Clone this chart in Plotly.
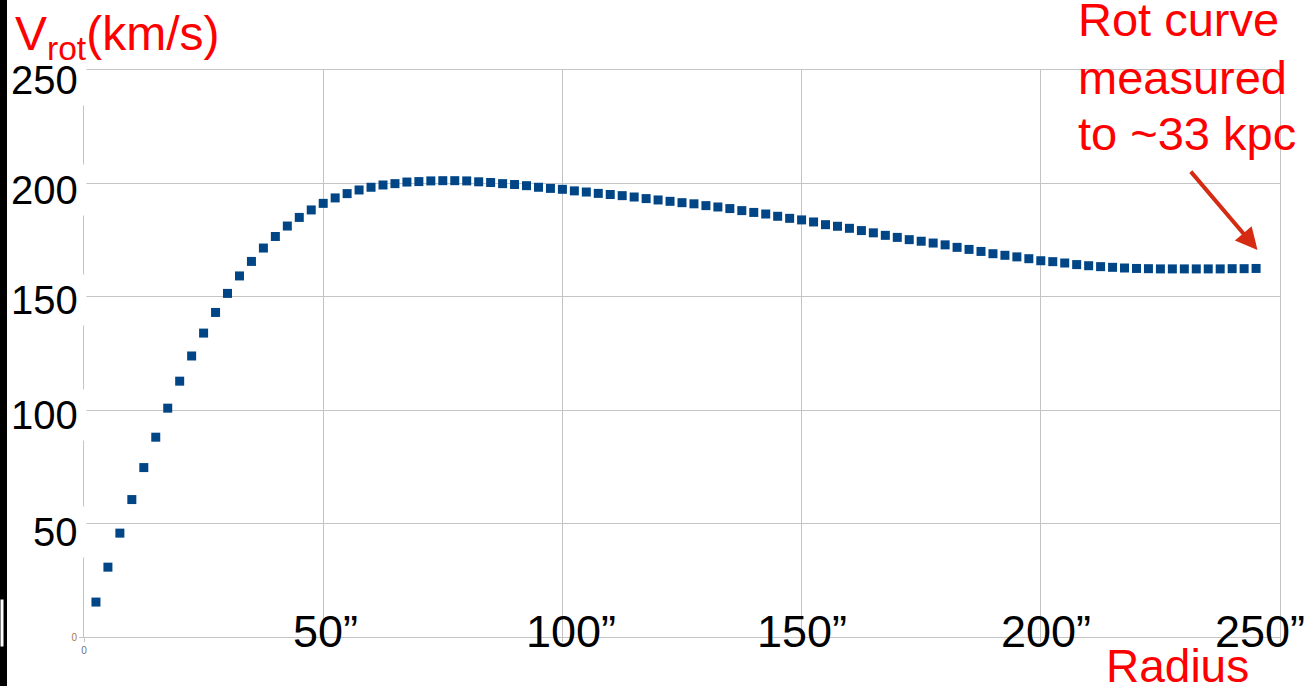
import plotly.graph_objects as go

# ---------------- data ----------------
radius_arcsec = [2.5, 5, 7.5, 10, 12.5, 15, 17.5, 20, 22.5, 25, 27.5, 30, 32.5, 35, 37.5, 40,
                 42.5, 45, 47.5, 50, 52.5, 55, 57.5, 60, 62.5, 65, 67.5, 70, 72.5, 75, 77.5, 80,
                 82.5, 85, 87.5, 90, 92.5, 95, 97.5, 100, 102.5, 105, 107.5, 110, 112.5, 115,
                 117.5, 120, 122.5, 125, 127.5, 130, 132.5, 135, 137.5, 140, 142.5, 145, 147.5,
                 150, 152.5, 155, 157.5, 160, 162.5, 165, 167.5, 170, 172.5, 175, 177.5, 180,
                 182.5, 185, 187.5, 190, 192.5, 195, 197.5, 200, 202.5, 205, 207.5, 210, 212.5,
                 215, 217.5, 220, 222.5, 225, 227.5, 230, 232.5, 235, 237.5, 240, 242.5, 245]
v_rot = [15.4, 30.8, 45.8, 60.6, 74.7, 88.1, 100.9, 112.8, 123.9, 134.0, 143.1, 151.5, 159.2,
         165.6, 171.5, 176.6, 181.2, 185.0, 188.3, 191.2, 193.6, 195.5, 197.1, 198.3, 199.3,
         199.9, 200.6, 200.8, 201.1, 201.2, 201.2, 201.1, 200.7, 200.4, 199.9, 199.5, 199.0,
         198.3, 197.8, 197.4, 196.7, 196.2, 195.6, 195.1, 194.6, 194.0, 193.3, 192.7, 192.1,
         191.5, 191.0, 190.2, 189.6, 188.9, 188.0, 187.2, 186.5, 185.5, 184.6, 183.9, 183.0,
         181.8, 181.1, 180.2, 179.2, 178.2, 177.1, 176.2, 175.2, 174.5, 173.7, 172.9, 171.8,
         170.9, 170.0, 169.0, 168.3, 167.6, 166.8, 165.9, 165.5, 164.9, 164.2, 163.7, 163.3,
         163.0, 162.7, 162.5, 162.4, 162.3, 162.3, 162.3, 162.3, 162.3, 162.3, 162.4, 162.4, 162.5]

x_tick_vals = [50, 100, 150, 200, 250]
x_tick_text = ['50\u201d', '100\u201d', '150\u201d', '200\u201d', '250\u201d']
y_tick_vals = [50, 100, 150, 200, 250]
y_tick_text = ['50', '100', '150', '200', '250']

title_text = 'V<sub>rot</sub>(km/s)'
note_lines = ['Rot curve', 'measured', 'to ~33 kpc']
xlabel_text = 'Radius'
arrow_tip = (245.3, 170.6)

# ---------------- style ----------------
W, H = 1306, 686
L, R, T, B = 84, 26, 70, 49
PW, PH = W - L - R, H - T - B
FONT = 'Liberation Sans, Arial, sans-serif'
RED = '#ff0000'
GRID = '#c4c4c4'

def px(x):
    return (x - L) / PW

def py(y):
    return (H - B - y) / PH

y_label_dy = [8, 5, 3, 7, 10]          # pixel offsets of the big y labels (down)
x_label_dx = [2, 9, 0, 5, -20]         # pixel offsets of the big x labels
note_centers = [20, 77, 133]           # pixel centres of the note lines

fig = go.Figure()
fig.add_trace(go.Scatter(
    x=radius_arcsec, y=v_rot, mode='markers',
    marker=dict(symbol='square', size=9, color='#004586', line=dict(width=0)),
    showlegend=False, hoverinfo='skip'))

annotations = []
for v, t, dy in zip(y_tick_vals, y_tick_text, y_label_dy):
    # white mask that interrupts the axis line behind each big label
    annotations.append(dict(
        xref='x', yref='y', x=0, y=v, xanchor='right', yanchor='middle',
        xshift=3, yshift=-dy, text=' ', showarrow=False, width=8, height=50,
        bgcolor='white', borderpad=0, font=dict(family=FONT, size=10)))
    annotations.append(dict(
        xref='x', yref='y', x=0, y=v, xanchor='right', yanchor='middle',
        xshift=-4, yshift=-dy, text=t, showarrow=False, align='right',
        font=dict(family=FONT, size=40, color='black')))
for v, t, dx in zip(x_tick_vals, x_tick_text, x_label_dx):
    annotations.append(dict(
        xref='x', yref='y', x=v, y=0, xanchor='center', yanchor='middle',
        xshift=dx, yshift=6, text=t, showarrow=False,
        font=dict(family=FONT, size=45, color='black')))

annotations.append(dict(
    xref='paper', yref='paper', x=px(13), y=py(37), xanchor='left', yanchor='middle',
    text=title_text, showarrow=False, font=dict(family=FONT, size=48, color=RED)))
for line, cy in zip(note_lines, note_centers):
    annotations.append(dict(
        xref='paper', yref='paper', x=px(1076), y=py(cy), xanchor='left', yanchor='middle',
        text=line, showarrow=False, font=dict(family=FONT, size=47, color=RED)))
annotations.append(dict(
    xref='paper', yref='paper', x=px(1104), y=py(666), xanchor='left', yanchor='middle',
    text=xlabel_text, showarrow=False, font=dict(family=FONT, size=46, color=RED)))
annotations.append(dict(
    xref='x', yref='y', x=arrow_tip[0], y=arrow_tip[1], ax=-68, ay=-80,
    text='', showarrow=True, arrowhead=2, arrowsize=1.1, arrowwidth=4,
    arrowcolor='#d42b12'))

shapes = [
    dict(type='rect', xref='paper', yref='paper', x0=px(0), x1=px(7), y0=py(H), y1=py(0),
         fillcolor='black', line=dict(width=0), layer='above'),
    dict(type='rect', xref='paper', yref='paper', x0=px(0), x1=px(4), y0=py(647), y1=py(599),
         fillcolor='white', line=dict(width=1, color='black'), layer='above'),
]

fig.update_layout(
    width=W, height=H, autosize=False,
    margin=dict(l=L, r=R, t=T, b=B, pad=0),
    paper_bgcolor='white', plot_bgcolor='white',
    annotations=annotations, shapes=shapes,
    xaxis=dict(range=[0, 250], tickvals=[0] + x_tick_vals, ticktext=['0', '', '', '', '', ''],
               showgrid=True, gridcolor=GRID, gridwidth=1, zeroline=False,
               showline=True, linecolor=GRID, linewidth=1, mirror=True,
               ticks='outside', ticklen=4, tickcolor=GRID,
               tickfont=dict(family=FONT, size=10, color='#6a7080')),
    yaxis=dict(range=[0, 250], tickvals=[0] + y_tick_vals, ticktext=['0', '', '', '', '', ''],
               showgrid=True, gridcolor=GRID, gridwidth=1, zeroline=False,
               showline=True, linecolor=GRID, linewidth=1, mirror=True,
               ticks='outside', ticklen=4, tickcolor=GRID,
               tickfont=dict(family=FONT, size=10, color='#a8783c')),
)

fig.write_html('out.html')
